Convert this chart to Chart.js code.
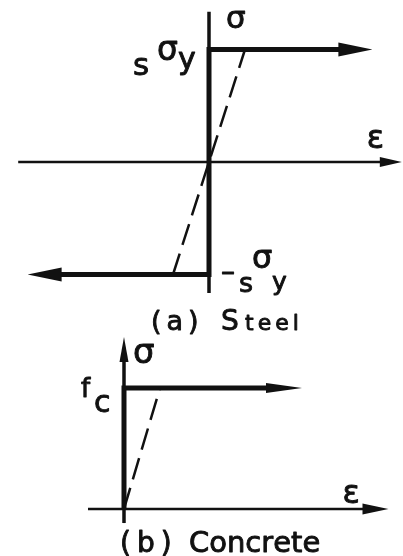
<!DOCTYPE html>
<html>
<head>
<meta charset="utf-8">
<script src="https://cdn.jsdelivr.net/npm/chart.js@4"></script>
<style>
  html, body { margin: 0; background: #fff; }
  #wrap { position: relative; width: 403px; height: 556px; overflow: hidden; }
  canvas { position: absolute; left: 0; }
  #steel { top: 0; }
  #concrete { top: 336px; }
</style>
</head>
<body>
<div id="wrap">
  <canvas id="steel" width="403" height="340"></canvas>
  <canvas id="concrete" width="403" height="220"></canvas>
</div>
<script>
// Idealised stress-strain laws. Strain in units of the yield strain,
// stress in units of the yield (steel) or compressive (concrete) strength.

// (a) steel: elastic - perfectly plastic in tension and compression
const steelStrain = [-4.15, 0, 0, 3.65];
const steelStress = [-1, -1, 1, 1];
const steelElasticStrain = [-1, 1];
const steelElasticStress = [-1, 1];
const steelStrainAxis = [-5.3, 4.8];
const steelStressAxis = [-1.165, 1.335];

// (b) concrete: compression only
const concreteStrain = [0, 0, 4.0];
const concreteStress = [0, 1, 1];
const concreteElasticStrain = [0, 1];
const concreteElasticStress = [0, 1];
const concreteStrainAxis = [-1.0, 6.68];
const concreteStressAxis = [-0.116, 1.231];

const INK = '#111';
const FONT = '"DejaVu Sans", "Liberation Sans", sans-serif';

const pts = (xs, ys) => xs.map((x, i) => ({ x, y: ys[i] }));

function arrowHead(ctx, from, to, len, hw) {
  const dx = to.x - from.x, dy = to.y - from.y;
  const d = Math.hypot(dx, dy) || 1;
  const ux = dx / d, uy = dy / d;
  const bx = to.x - ux * 2, by = to.y - uy * 2;
  ctx.beginPath();
  ctx.moveTo(to.x + ux * len, to.y + uy * len);
  ctx.lineTo(bx - uy * hw, by + ux * hw);
  ctx.lineTo(bx + uy * hw, by - ux * hw);
  ctx.closePath();
  ctx.fill();
}

// stencil lettering is a little heavier than the plain face
function ink(ctx, text, x, y) {
  ctx.fillText(text, x, y);
  ctx.strokeText(text, x, y);
}

function spacedText(ctx, text, x, y, size, spacing) {
  ctx.font = `${size}px ${FONT}`;
  for (const ch of text) {
    ink(ctx, ch, x, y);
    x += ctx.measureText(ch).width + spacing;
  }
}

// axes with arrows, arrowheads on the curves, symbols and captions
const figurePlugin = {
  id: 'figure',
  beforeDatasetsDraw(chart, args, o) {
    const { ctx, scales: { x, y } } = chart;
    const x0 = x.getPixelForValue(0), y0 = y.getPixelForValue(0);
    ctx.save();
    ctx.strokeStyle = INK;
    ctx.fillStyle = INK;

    const xa = x.getPixelForValue(o.strainAxis[0]);
    const xb = x.getPixelForValue(o.strainAxis[1]);
    ctx.lineWidth = o.strainWidth;
    ctx.beginPath(); ctx.moveTo(xa, y0); ctx.lineTo(xb, y0); ctx.stroke();
    arrowHead(ctx, { x: xa, y: y0 }, { x: xb, y: y0 }, o.strainHead[0], o.strainHead[1]);

    const ya = y.getPixelForValue(o.stressAxis[0]);
    const yb = y.getPixelForValue(o.stressAxis[1]);
    ctx.lineWidth = o.stressWidth;
    ctx.beginPath(); ctx.moveTo(x0, ya); ctx.lineTo(x0, yb); ctx.stroke();
    if (o.stressHead) {
      arrowHead(ctx, { x: x0, y: ya }, { x: x0, y: yb }, o.stressHead[0], o.stressHead[1]);
    }
    ctx.restore();
  },
  afterDatasetsDraw(chart, args, o) {
    const { ctx, scales: { x, y } } = chart;
    ctx.save();
    ctx.fillStyle = INK;
    ctx.strokeStyle = INK;

    chart.data.datasets.forEach((ds, i) => {
      if (!ds.head) return;
      const p = chart.getDatasetMeta(i).data;
      const n = p.length;
      if (ds.head.start) arrowHead(ctx, p[1], p[0], ds.head.len, ds.head.hw);
      if (ds.head.end) arrowHead(ctx, p[n - 2], p[n - 1], ds.head.len, ds.head.hw);
    });

    ctx.textAlign = 'left';
    ctx.textBaseline = 'alphabetic';
    ctx.lineWidth = 0.9;
    ctx.lineJoin = 'round';
    for (const l of o.labels) {
      ctx.font = `${l.size}px ${FONT}`;
      ink(ctx, l.text, x.getPixelForValue(l.at[0]) + l.dx, y.getPixelForValue(l.at[1]) + l.dy);
    }
    for (const c of o.captions) spacedText(ctx, c.text, c.x, c.y, c.size, c.spacing);
    ctx.restore();
  }
};

function line(data, width, extra) {
  return Object.assign({
    data, showLine: true, fill: false, tension: 0,
    borderColor: INK, borderWidth: width,
    borderCapStyle: 'butt', borderJoinStyle: 'miter',
    pointRadius: 0, pointHoverRadius: 0
  }, extra);
}

function makeChart(id, datasets, xRange, yRange, figure) {
  return new Chart(document.getElementById(id), {
    type: 'scatter',
    data: { datasets },
    options: {
      responsive: false,
      animation: false,
      events: [],
      layout: { padding: 0 },
      scales: {
        x: { type: 'linear', min: xRange[0], max: xRange[1], display: false },
        y: { type: 'linear', min: yRange[0], max: yRange[1], display: false }
      },
      plugins: { legend: { display: false }, tooltip: { enabled: false }, figure }
    },
    plugins: [figurePlugin]
  });
}

makeChart('steel', [
  line(pts(steelElasticStrain, steelElasticStress), 2.5, { borderDash: [22, 9] }),
  line(pts(steelStrain, steelStress), 5, { head: { start: true, end: true, len: 32, hw: 7 } })
], [-5.8056, 5.3889], [-1.5822, 1.44], {
  strainAxis: steelStrainAxis, strainWidth: 2.5, strainHead: [20, 5],
  stressAxis: steelStressAxis, stressWidth: 3.5, stressHead: null,
  labels: [
    { at: [0, 1.335], dx: 17, dy: 16, text: 'σ', size: 31 },
    { at: [4.8, 0], dx: -15, dy: -14, text: 'ε', size: 32 },
    { at: [0, 1], dx: -76, dy: 25.5, text: 's', size: 31 },
    { at: [0, 1], dx: -52, dy: 10.5, text: 'σ', size: 33 },
    { at: [0, 1], dx: -31, dy: 19.5, text: 'y', size: 30 },
    { at: [0, -1], dx: 12, dy: 6, text: '–', size: 28 },
    { at: [0, -1], dx: 30, dy: 17.5, text: 's', size: 27 },
    { at: [0, -1], dx: 43, dy: -6.5, text: 'σ', size: 32 },
    { at: [0, -1], dx: 63, dy: 15.5, text: 'y', size: 25 }
  ],
  captions: [
    { text: '(a)', x: 151, y: 330, size: 27, spacing: 5 },
    { text: 'S', x: 221, y: 330, size: 28, spacing: 0 },
    { text: 'teel', x: 245, y: 330, size: 22, spacing: 4 }
  ]
});

makeChart('concrete', [
  line(pts(concreteElasticStrain, concreteElasticStress), 2.5, { borderDash: [22, 9] }),
  line(pts(concreteStrain, concreteStress), 5, { head: { end: true, len: 34, hw: 5 } })
], [-3.4444, 7.75], [-0.3884, 1.4298], {
  strainAxis: concreteStrainAxis, strainWidth: 2.5, strainHead: [24, 5.5],
  stressAxis: concreteStressAxis, stressWidth: 3.5, stressHead: [23, 4.5],
  labels: [
    { at: [0, 1.231], dx: 9, dy: 3, text: 'σ', size: 34 },
    { at: [6.68, 0], dx: -22, dy: -6, text: 'ε', size: 32 },
    { at: [0, 1], dx: -43, dy: 9, text: 'f', size: 26 },
    { at: [0, 1], dx: -30, dy: 24, text: 'c', size: 30 }
  ],
  captions: [
    { text: '(b)', x: 120, y: 216, size: 28, spacing: 6 },
    { text: 'Concrete', x: 189, y: 216, size: 29, spacing: 0 }
  ]
});
</script>
</body>
</html>
